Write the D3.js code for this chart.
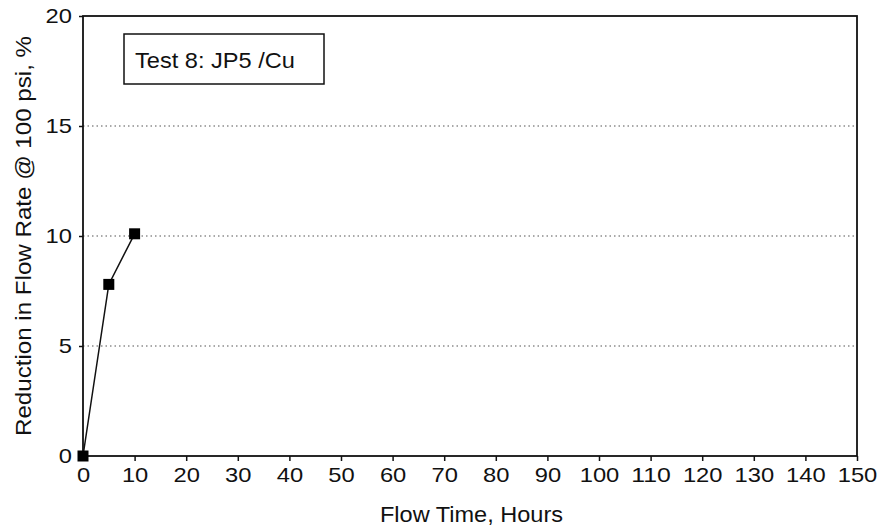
<!DOCTYPE html>
<html><head><meta charset="utf-8">
<script src="https://cdn.jsdelivr.net/npm/d3@7"></script>
<style>body{margin:0;background:#fff}svg{display:block}text{font-family:"Liberation Sans",Arial,sans-serif;fill:#111}</style>
</head><body>
<svg id="c" width="884" height="532"></svg>
<script>
const flowTime = [0, 5, 10];
const reduction = [0, 7.8, 10.1];
const xTicks = [0,10,20,30,40,50,60,70,80,90,100,110,120,130,140,150];
const yTicks = [0,5,10,15,20];
const gridValues = [5,10,15];
const legendText = "Test 8: JP5 /Cu";
const xTitle = "Flow Time, Hours";
const yTitle = "Reduction in Flow Rate @ 100 psi, %";

const svg = d3.select("#c");
const L=83, R=857, T=16, B=456;
const x = d3.scaleLinear().domain([0,150]).range([L,R]);
const y = d3.scaleLinear().domain([0,20]).range([B,T]);

// grid
svg.append("g").selectAll("line").data(gridValues).join("line")
  .attr("x1",L).attr("x2",R).attr("y1",d=>y(d)).attr("y2",d=>y(d))
  .attr("stroke","#555").attr("stroke-width",1.2).attr("stroke-dasharray","1.5,3");

// frame
svg.append("rect").attr("x",L).attr("y",T).attr("width",R-L).attr("height",B-T)
  .attr("fill","none").attr("stroke","#111").attr("stroke-width",1.8);

// axes
const xa = svg.append("g").attr("transform",`translate(0,${B})`)
  .call(d3.axisBottom(x).tickValues(xTicks).tickSize(5).tickPadding(6).tickFormat(d3.format("d")));
const ya = svg.append("g").attr("transform",`translate(${L},0)`)
  .call(d3.axisLeft(y).tickValues(yTicks).tickSize(4).tickPadding(7).tickFormat(d3.format("d")));
[xa,ya].forEach(a=>{
  a.select(".domain").remove();
  a.selectAll("line").attr("stroke","#111").attr("stroke-width",1.5);
  a.selectAll("text").attr("font-size",21).attr("fill","#111")
    .style("font-family","'Liberation Sans',Arial,sans-serif")
    .attr("textLength",d=>String(d).length*13.2).attr("lengthAdjust","spacingAndGlyphs");
});
ya.selectAll("text").attr("dy","0.3em");

// line + markers
const pts = flowTime.map((t,i)=>[t,reduction[i]]);
svg.append("path").datum(pts)
  .attr("d",d3.line().x(d=>x(d[0])).y(d=>y(d[1])))
  .attr("fill","none").attr("stroke","#111").attr("stroke-width",1.5);
svg.append("g").selectAll("rect").data(pts).join("rect")
  .attr("x",d=>x(d[0])-5.5).attr("y",d=>y(d[1])-5.5)
  .attr("width",11).attr("height",11).attr("fill","#000");

// legend
svg.append("rect").attr("x",124).attr("y",34).attr("width",200).attr("height",50)
  .attr("fill","#fff").attr("stroke","#111").attr("stroke-width",1.5);
svg.append("text").attr("x",135).attr("y",68).attr("font-size",22)
  .attr("textLength",160).attr("lengthAdjust","spacingAndGlyphs").text(legendText);

// titles
svg.append("text").attr("x",380).attr("y",522).attr("font-size",22)
  .attr("textLength",183).attr("lengthAdjust","spacingAndGlyphs").text(xTitle);
svg.append("text").attr("transform","translate(31,436) rotate(-90)").attr("font-size",22)
  .attr("textLength",400).attr("lengthAdjust","spacingAndGlyphs").text(yTitle);
</script>
</body></html>
